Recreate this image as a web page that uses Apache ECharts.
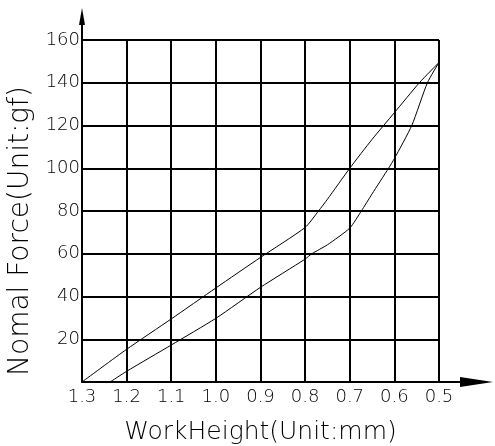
<!DOCTYPE html>
<html lang="en">
<head>
    <meta charset="UTF-8">
    <title>Force curve</title>
    <script src="https://cdn.jsdelivr.net/npm/echarts@6/dist/echarts.min.js"></script>
</head>
<body style="margin:0">
<div id="main" style="width:495px;height:446px"></div>
<script type="text/javascript">

    // upper branch
    var heightA = [1.3, 1.2, 1.1, 1.0, 0.9, 0.8, 0.77, 0.75, 0.7, 0.65, 0.6, 0.544, 0.5];
    var forceA  = [0, 15.3, 29.5, 44, 58.3, 72.3, 80, 85.5, 100, 113.5, 126, 140, 149.5];

    // lower branch
    var heightB = [1.237, 1.2, 1.1, 1.0, 0.9, 0.8, 0.785, 0.75, 0.7, 0.674, 0.65, 0.613, 0.6, 0.561, 0.526, 0.5];
    var forceB  = [0, 5, 17.3, 29.8, 44.3, 57.5, 60, 64.2, 72, 80, 88, 100, 104.5, 120, 140, 149.5];

    var xTicks = ['1.3', '1.2', '1.1', '1.0', '0.9', '0.8', '0.7', '0.6', '0.5'];
    var yTicks = ['', '20', '40', '60', '80', '100', '120', '140', '160'];

    function pairs(xs, ys) {
        var out = [];
        for (var i = 0; i < xs.length; i++) out.push([xs[i], ys[i]]);
        return out;
    }

    var font = 'DejaVu Sans';
    var myChart = echarts.init(document.getElementById('main'));

    var option = {
        animation: false,
        backgroundColor: '#fff',
        grid: {left: 82, right: 56, top: 40, bottom: 64, containLabel: false, outerBoundsMode: 'none'},
        xAxis: {
            type: 'value',
            inverse: true,
            min: 0.5,
            max: 1.3,
            interval: 0.1,
            name: 'WorkHeight(Unit:mm)',
            nameLocation: 'middle',
            nameGap: 38,
            nameTextStyle: {fontFamily: font, fontSize: 25, fontWeight: 200, color: '#000'},
            axisLine: {lineStyle: {color: '#000', width: 2}},
            axisTick: {show: false},
            axisLabel: {
                margin: 6,
                fontFamily: font, fontSize: 18, fontWeight: 200, color: '#000',
                formatter: function (v) { return xTicks[Math.round((1.3 - v) * 10)]; }
            },
            splitLine: {lineStyle: {color: '#000', width: 2}}
        },
        yAxis: {
            type: 'value',
            min: 0,
            max: 160,
            interval: 20,
            name: 'Nomal Force(Unit:gf)',
            nameLocation: 'middle',
            nameGap: 46,
            nameTextStyle: {fontFamily: font, fontSize: 28, fontWeight: 200, color: '#000', padding: [0, 40, 0, 0]},
            axisLine: {show: true, lineStyle: {color: '#000', width: 2}},
            axisTick: {show: false},
            axisLabel: {
                margin: 2,
                fontFamily: font, fontSize: 18, fontWeight: 200, color: '#000',
                formatter: function (v) { return yTicks[Math.round(v / 20)]; }
            },
            splitLine: {lineStyle: {color: '#000', width: 2}}
        },
        series: [
            {
                type: 'line',
                data: pairs(heightA, forceA),
                smooth: 0.2,
                symbol: 'none',
                lineStyle: {color: '#000', width: 1}
            },
            {
                type: 'line',
                data: pairs(heightB, forceB),
                smooth: 0.2,
                symbol: 'none',
                lineStyle: {color: '#000', width: 1}
            }
        ]
    };
    myChart.setOption(option);

    // axis arrows past the grid
    var o = myChart.convertToPixel({gridIndex: 0}, [1.3, 0]);
    var xe = myChart.convertToPixel({gridIndex: 0}, [0.5, 0]);
    var ye = myChart.convertToPixel({gridIndex: 0}, [1.3, 160]);
    myChart.setOption({
        graphic: [
            {type: 'line', shape: {x1: xe[0], y1: xe[1], x2: xe[0] + 24, y2: xe[1]}, style: {stroke: '#000', lineWidth: 2}},
            {type: 'polygon', shape: {points: [[xe[0] + 21, xe[1] - 5], [xe[0] + 54, xe[1]], [xe[0] + 21, xe[1] + 5]]}, style: {fill: '#000'}},
            {type: 'line', shape: {x1: o[0], y1: ye[1], x2: o[0], y2: ye[1] - 16}, style: {stroke: '#000', lineWidth: 2}},
            {type: 'polygon', shape: {points: [[o[0] - 3, ye[1] - 15], [o[0], ye[1] - 32], [o[0] + 3, ye[1] - 15]]}, style: {fill: '#000'}}
        ]
    });

</script>
</body>
</html>
